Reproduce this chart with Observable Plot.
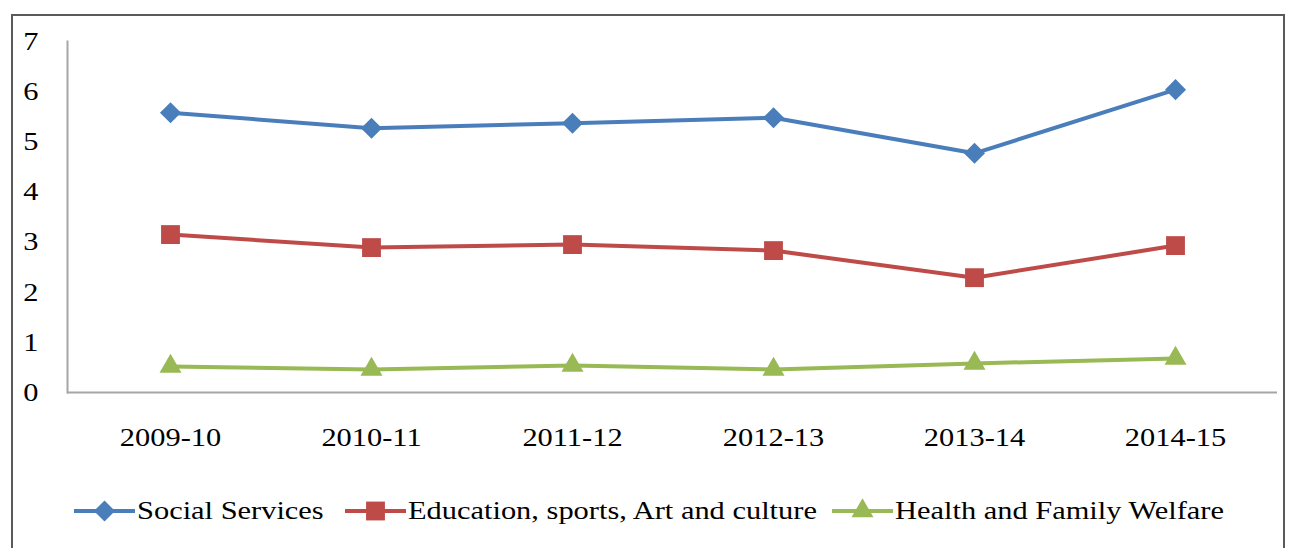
<!DOCTYPE html>
<html>
<head>
<meta charset="utf-8">
<script src="https://cdn.jsdelivr.net/npm/d3@7"></script>
<script src="https://cdn.jsdelivr.net/npm/@observablehq/plot@0.6"></script>
<style>
  html, body { margin: 0; padding: 0; background: #fff; }
  #wrap { position: relative; width: 1298px; height: 548px; overflow: hidden; }
  #border { position: absolute; left: 11px; top: 14px; width: 1274px; height: 560px; border: 2px solid #5a5a5a; box-sizing: border-box; }
  #chart { position: absolute; left: 0; top: 0; }
  #legend { position: absolute; left: 0; top: 493px; width: 1298px; height: 36px; font-family: "Liberation Serif", "Times New Roman", serif; font-size: 26px; color: #000; }
  .item { position: absolute; top: 0; height: 36px; display: flex; align-items: center; }
  .item span { display: inline-block; transform: scaleX(1.17); transform-origin: left center; white-space: nowrap; }
</style>
</head>
<body>
<div id="wrap">
  <div id="border"></div>
  <div id="chart"></div>
  <div id="legend"></div>
</div>
<script>
const years = ["2009-10", "2010-11", "2011-12", "2012-13", "2013-14", "2014-15"];
const socialServices = [5.58, 5.27, 5.37, 5.48, 4.77, 6.04];
const education = [3.15, 2.89, 2.95, 2.83, 2.29, 2.93];
const health = [0.52, 0.46, 0.54, 0.46, 0.58, 0.68];
const seriesNames = ["Social Services", "Education, sports, Art and culture", "Health and Family Welfare"];
const seriesColors = ["#4a7ebb", "#be4b48", "#98b954"];
const seriesSymbols = ["diamond2", "square2", "triangle2"];
const yTicks = [0, 1, 2, 3, 4, 5, 6, 7];

const seriesValues = [socialServices, education, health];
const rows = seriesValues.map((vals, s) => years.map((y, i) => ({year: y, value: vals[i], series: seriesNames[s]})));
const symbolR = [9.5, 12, 10.5];

const marks = [
  Plot.ruleY([0], {stroke: "#a6a6a6", strokeWidth: 2}),
  Plot.frame({anchor: "left", stroke: "#a6a6a6", strokeWidth: 2}),
  Plot.axisY({ticks: yTicks, tickSize: 0, tickPadding: 29, tickFormat: d => String(d), fontSize: 26, fill: "#000"}),
  Plot.axisX({tickSize: 0, tickPadding: 35, fontSize: 26, fill: "#000"})
];
rows.forEach((data, s) => {
  marks.push(Plot.line(data, {x: "year", y: "value", stroke: seriesColors[s], strokeWidth: 4}));
  marks.push(Plot.dot(data, {x: "year", y: "value", symbol: () => seriesSymbols[s], fill: seriesColors[s], stroke: "none", r: symbolR[s]}));
});

const chart = Plot.plot({
  width: 1298,
  height: 460,
  marginLeft: 67,
  marginRight: 21,
  marginTop: 41,
  marginBottom: 68,
  style: {fontFamily: '"Liberation Serif", "Times New Roman", serif', fontSize: "26px", color: "#000", background: "transparent"},
  x: {type: "point", domain: years, padding: 0.5, label: null},
  y: {domain: [0, 7], label: null},
  symbol: {type: "identity"},
  marks
});
document.getElementById("chart").appendChild(chart);

// stretch tick labels horizontally to match the reference typeface proportions
chart.querySelectorAll('g[aria-label$="tick label"] text').forEach(t => {
  const tr = t.getAttribute("transform") || "";
  t.setAttribute("transform", tr + " scale(1.17,1)");
});

// legend
const legend = document.getElementById("legend");
const itemLeft = [74, 345, 832];
const symMap = {diamond2: d3.symbolDiamond2, square2: d3.symbolSquare2, triangle2: d3.symbolTriangle2};
seriesNames.forEach((name, s) => {
  const item = document.createElement("div");
  item.className = "item";
  item.style.left = itemLeft[s] + "px";
  const sw = d3.create("svg").attr("width", 63).attr("height", 36);
  sw.append("line").attr("x1", 0).attr("x2", 61).attr("y1", 18).attr("y2", 18)
    .attr("stroke", seriesColors[s]).attr("stroke-width", 4);
  sw.append("path").attr("transform", "translate(30.5,18)")
    .attr("d", d3.symbol(symMap[seriesSymbols[s]], Math.PI * symbolR[s] * symbolR[s])())
    .attr("fill", seriesColors[s]);
  item.appendChild(sw.node());
  const label = document.createElement("span");
  label.textContent = name;
  item.appendChild(label);
  legend.appendChild(item);
});
</script>
</body>
</html>
